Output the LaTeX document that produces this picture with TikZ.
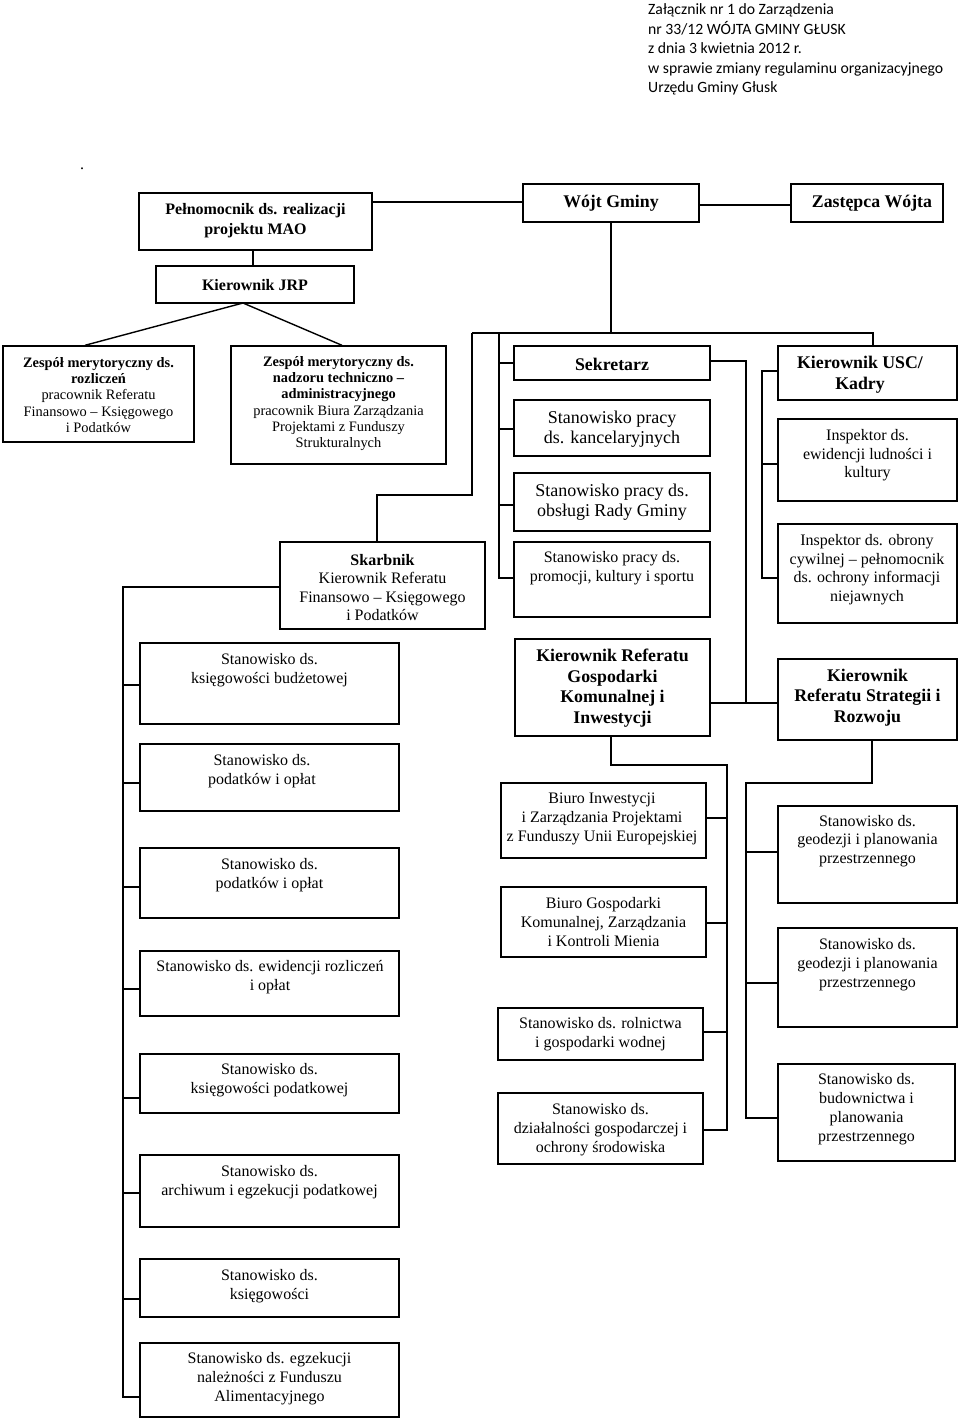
\documentclass[tikz,border=0pt]{standalone}
\usepackage{fontspec}
\setmainfont{Liberation Serif}
\newfontfamily\calib{Carlito}
\newcommand{\rg}{\fontsize{16}{18.8}\selectfont}
\newcommand{\rgs}{\fontsize{16}{18.5}\selectfont}
\newcommand{\hb}{\fontsize{17.8}{20.6}\selectfont\bfseries}
\newcommand{\hbs}{\fontsize{16}{20}\selectfont\bfseries}
\newcommand{\zs}{\fontsize{14.4}{16.3}\selectfont}
\newcommand{\sk}{\fontsize{18}{20.2}\selectfont}
\newcommand{\hd}{\calib\fontsize{15.7}{19.5}\selectfont}
\tikzset{
  box/.style={draw, line width=1.4pt, rectangle, inner sep=0pt},
  txt/.style={inner sep=0pt, align=center},
  ln/.style={line width=1.4pt},
  hdr/.style={anchor=base west, inner sep=0pt, font=\hd}
}
\newcommand{\bx}[9]{%
  \node[box, minimum width={(#4-#2)*1pt}, minimum height={(#5-#3)*1pt}] (#1) at ({(#2+#4)/2},{(#3+#5)/2}) {};
  \node[txt, font=#8] (#1t) at (#6,#7) {#9};}
\begin{document}
\begin{tikzpicture}[x=1pt,y=-1pt]
\fill[white] (0,0) rectangle (960,1419);
\useasboundingbox (0,0) rectangle (960,1419);
% header
\node[hdr] (h1) at (648,14.5) {Załącznik nr 1 do Zarządzenia};
\node[hdr] (h2) at (648,34) {nr 33/12 WÓJTA GMINY GŁUSK};
\node[hdr] (h3) at (648,53.5) {z dnia 3 kwietnia 2012 r.};
\node[hdr] (h4) at (648,73) {w sprawie zmiany regulaminu organizacyjnego};
\node[hdr] (h5) at (648,92.5) {Urzędu Gminy Głusk};
\node[txt, font=\rg] (dot) at (82,169) {.};
% top
\bx{P}{139}{193}{372}{250}{255.5}{221}{\hbs}{Pełnomocnik ds. realizacji\\projektu MAO}
\bx{W}{523}{184}{699}{222}{611}{203}{\hb}{Wójt Gminy}
\bx{Z}{791}{184}{943}{222}{872}{203}{\hb}{Zastępca Wójta}
\bx{J}{156}{266}{354}{303}{255}{285}{\hbs}{Kierownik JRP}
\bx{ZR}{3}{346}{194}{442}{98.5}{395}{\zs}{{\bfseries Zespół merytoryczny ds.}\\{\bfseries rozliczeń}\\pracownik Referatu\\Finansowo – Księgowego\\i Podatków}
\bx{ZN}{231}{346}{446}{464}{338.5}{403.5}{\zs}{{\bfseries Zespół merytoryczny ds.}\\{\bfseries nadzoru techniczno –}\\{\bfseries administracyjnego}\\pracownik Biura Zarządzania\\Projektami z Funduszy\\Strukturalnych}
\bx{SK}{280}{542}{485}{629}{382.5}{587.5}{\rgs}{{\bfseries Skarbnik}\\Kierownik Referatu\\Finansowo – Księgowego\\i Podatków}
\bx{SE}{514}{346}{710}{380}{612}{364}{\hb}{Sekretarz}
\bx{KA}{514}{400}{710}{456}{612}{429}{\sk}{Stanowisko pracy\\ds. kancelaryjnych}
\bx{OB}{514}{473}{710}{531}{612}{502}{\sk}{Stanowisko pracy ds.\\obsługi Rady Gminy}
\bx{PR}{514}{542}{710}{617}{612}{568.5}{\rg}{Stanowisko pracy ds.\\promocji, kultury i sportu}
\bx{U}{778}{346}{957}{400}{860}{374.5}{\hb}{Kierownik USC/\\Kadry}
\bx{IE}{778}{419}{957}{501}{867.5}{455.5}{\rgs}{Inspektor ds.\\ewidencji ludności i\\kultury}
\bx{IO}{778}{524}{957}{623}{867}{569.5}{\rgs}{Inspektor ds. obrony\\cywilnej – pełnomocnik\\ds. ochrony informacji\\niejawnych}
% left column
\bx{L1}{140}{643}{399}{724}{269.5}{670.5}{\rg}{Stanowisko ds.\\księgowości budżetowej}
\bx{L2}{140}{744}{399}{811}{262}{771.5}{\rg}{Stanowisko ds.\\podatków i opłat}
\bx{L3}{140}{848}{399}{918}{269.5}{875}{\rg}{Stanowisko ds.\\podatków i opłat}
\bx{L4}{140}{951}{399}{1016}{270}{977.5}{\rg}{Stanowisko ds. ewidencji rozliczeń\\i opłat}
\bx{L5}{140}{1054}{399}{1113}{269.5}{1080.5}{\rg}{Stanowisko ds.\\księgowości podatkowej}
\bx{L6}{140}{1155}{399}{1227}{269.5}{1182.5}{\rg}{Stanowisko ds.\\archiwum i egzekucji podatkowej}
\bx{L7}{140}{1259}{399}{1317}{269.5}{1286}{\rg}{Stanowisko ds.\\księgowości}
\bx{L8}{140}{1343}{399}{1417}{269.5}{1378.5}{\rg}{Stanowisko ds. egzekucji\\należności z Funduszu\\Alimentacyjnego}
% middle / right lower
\bx{G}{515}{639}{710}{736}{612.5}{688}{\hb}{Kierownik Referatu\\Gospodarki\\Komunalnej i\\Inwestycji}
\bx{ST}{778}{659}{957}{740}{867.5}{697.5}{\hb}{Kierownik\\Referatu Strategii i\\Rozwoju}
\bx{BI}{501}{783}{706}{858}{602}{819}{\rg}{Biuro Inwestycji\\i Zarządzania Projektami\\z Funduszy Unii Europejskiej}
\bx{BG}{501}{887}{706}{957}{603.5}{922}{\rg}{Biuro Gospodarki\\Komunalnej, Zarządzania\\i Kontroli Mienia}
\bx{RO}{498}{1008}{703}{1060}{600.5}{1034.5}{\rg}{Stanowisko ds. rolnictwa\\i gospodarki wodnej}
\bx{DZ}{498}{1093}{703}{1164}{600.5}{1129.5}{\rg}{Stanowisko ds.\\działalności gospodarczej i\\ochrony środowiska}
\bx{GE1}{778}{806}{957}{903}{867.5}{841}{\rg}{Stanowisko ds.\\geodezji i planowania\\przestrzennego}
\bx{GE2}{778}{928}{957}{1027}{867.5}{964.5}{\rg}{Stanowisko ds.\\geodezji i planowania\\przestrzennego}
\bx{BU}{778}{1064}{955}{1161}{866.5}{1109}{\rg}{Stanowisko ds.\\budownictwa i\\planowania\\przestrzennego}
% connectors top
\draw[ln] (P.east |- 0,202) -- (W.west |- 0,202);
\draw[ln] (W.east |- 0,205) -- (Z.west |- 0,205);
\draw[ln] (P.south -| 253,0) -- (J.north -| 253,0);
\coordinate (apex) at (243,303);
\draw[ln] (ZR.north -| 85,0) -- (apex) -- (ZN.north -| 342,0);
% Wojt bus
\coordinate (busL) at (472,333);
\coordinate (busM) at (499,333);
\coordinate (busR) at (873,333);
\draw[ln] (W.south) -- (W.south |- busL);
\draw[ln] (busL) -- (busR) -- (busR |- U.north);
\coordinate (sk1) at (377,495);
\draw[ln] (busL) |- (sk1) -- (sk1 |- SK.north);
\draw[ln] (busM) -- (busM |- 0,578) -- (PR.west |- 0,578);
\foreach \n/\yy in {SE/363, KA/429, OB/505}
  \draw[ln] (busM |- 0,\yy) -- (\n.west |- 0,\yy);
% Sekretarz to Gospodarka-Strategia link
\coordinate (gsj) at (746,703);
\draw[ln] (SE.east |- 0,361) -| (gsj);
\draw[ln] (G.east |- gsj) -- (ST.west |- gsj);
% USC
\coordinate (ub) at (762,371);
\draw[ln] (U.west |- ub) -- (ub) -- (ub |- 0,578) -- (IO.west |- 0,578);
\draw[ln] (ub |- 0,464) -- (IE.west |- 0,464);
% left column
\coordinate (lb) at (123,587);
\draw[ln] (SK.west |- lb) -- (lb) -- (lb |- 0,1397) -- (L8.west |- 0,1397);
\foreach \n/\yy in {L1/685, L2/783, L3/887, L4/989, L5/1098, L6/1193, L7/1299}
  \draw[ln] (lb |- 0,\yy) -- (\n.west |- 0,\yy);
% Gospodarka bottom
\coordinate (gb) at (727,765);
\draw[ln] (G.south -| 611,0) |- (gb) -- (gb |- 0,1130) -- (DZ.east |- 0,1130);
\foreach \n/\yy in {BI/818, BG/923, RO/1032}
  \draw[ln] (gb |- 0,\yy) -- (\n.east |- 0,\yy);
% Strategia bottom
\coordinate (sb) at (746,783);
\draw[ln] (ST.south -| 872,0) |- (sb) -- (sb |- 0,1118) -- (BU.west |- 0,1118);
\foreach \n/\yy in {GE1/852, GE2/983}
  \draw[ln] (sb |- 0,\yy) -- (\n.west |- 0,\yy);
\end{tikzpicture}
\end{document}
